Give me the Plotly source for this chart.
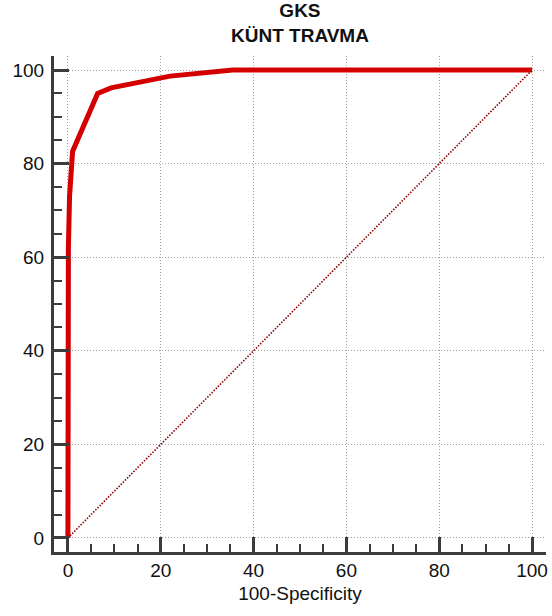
import plotly.graph_objects as go

# ROC curve: false positive rate (100-Specificity) vs. sensitivity, in percent
roc_fpr = [0, 0, 0.1, 0.35, 0.6, 1.0, 6.4, 9.3, 22.0, 35.5, 100]
roc_tpr = [0, 55, 62, 73, 78, 82.6, 95.0, 96.2, 98.7, 100, 100]

# reference (chance) diagonal
diag_x = [0, 100]
diag_y = [0, 100]

tick_vals = [0, 20, 40, 60, 80, 100]
tick_text = ["0", "20", "40", "60", "80", "100"]

title_text = "<b>GKS<br>KÜNT TRAVMA</b>"
x_title = "100-Specificity"

axis_color = "#3c3c3c"
font_family = "Arial, Liberation Sans, sans-serif"

fig = go.Figure()
fig.add_trace(go.Scatter(
    x=diag_x, y=diag_y, mode="lines",
    line=dict(color="#8c0000", width=1.6, dash="1.5px,1.5px"),
    hoverinfo="skip", showlegend=False,
))
fig.add_trace(go.Scatter(
    x=roc_fpr, y=roc_tpr, mode="lines",
    line=dict(color="#d40000", width=5),
    showlegend=False,
))

axis_common = dict(
    range=[-3, 103],
    tickmode="array", tickvals=tick_vals, ticktext=tick_text,
    ticks="inside", ticklen=15, tickwidth=3, tickcolor=axis_color,
    showline=True, linewidth=3, linecolor=axis_color, mirror=False,
    showgrid=True, gridcolor="#a0a0a0", gridwidth=1, griddash="1px,2px",
    zeroline=False,
    tickfont=dict(family=font_family, size=19, color="#111111"),
    minor=dict(ticks="inside", ticklen=8, tickwidth=2, tickcolor=axis_color,
               dtick=5, tick0=0, showgrid=False),
    fixedrange=True,
)

fig.update_xaxes(**axis_common, ticklabelstandoff=-1,
                 title=dict(text=x_title, standoff=7,
                            font=dict(family=font_family, size=19, color="#111111")))
fig.update_yaxes(**axis_common, ticklabelstandoff=3)

fig.update_layout(
    width=552, height=616,
    margin=dict(l=54, r=4, t=56, b=64),
    paper_bgcolor="white", plot_bgcolor="white",
    showlegend=False,
    annotations=[dict(
        text=title_text, xref="paper", yref="paper",
        x=0.5, xanchor="center", y=1 + 58 / 496, yanchor="top",
        showarrow=False, align="center",
        font=dict(family=font_family, size=19, color="#111111"),
    )],
)

fig.write_html("out.html")
